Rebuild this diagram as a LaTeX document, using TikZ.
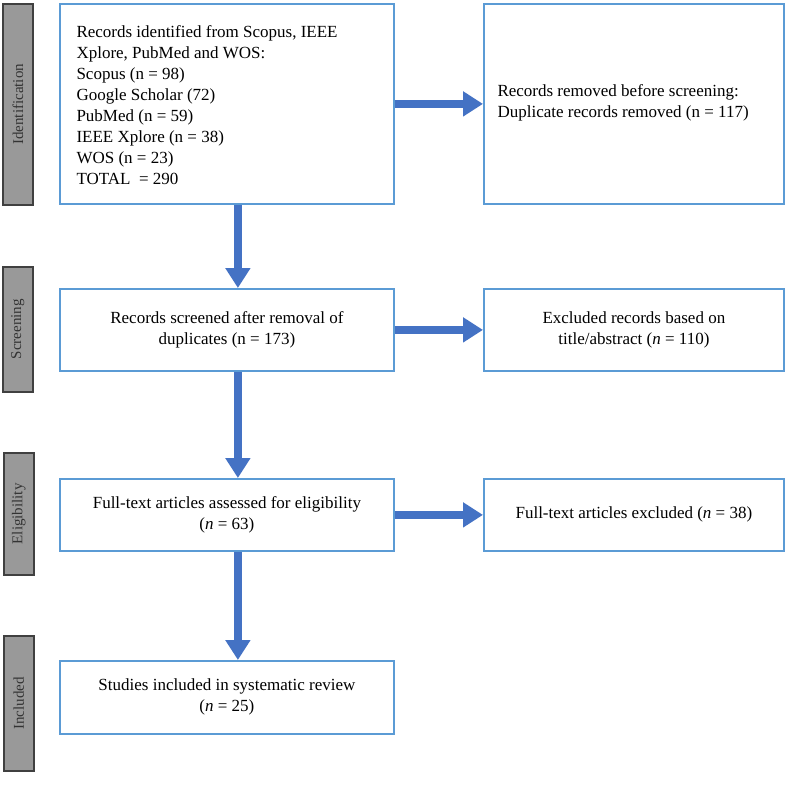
\documentclass[tikz,border=0pt]{standalone}
\usepackage{fontspec}
\setmainfont{Liberation Serif}
\usetikzlibrary{arrows.meta}
\definecolor{flowblue}{HTML}{4472C4}
\definecolor{boxline}{HTML}{5B9BD5}
\tikzset{
  stage/.style={draw=black!75,fill=black!40,line width=1.6pt,minimum width=30pt,anchor=north west,inner sep=0pt},
  stagetext/.style={rotate=90,font=\fontsize{15}{17}\selectfont,text=black!80},
  box/.style={draw=boxline,line width=1.8pt,anchor=north west,inner sep=0pt,font=\fontsize{17}{21}\selectfont},
  flow/.style={flowblue,line width=7.5pt,-{Triangle[length=20pt,width=24pt]}}
}
\begin{document}
\begin{tikzpicture}[x=1pt,y=-1pt]
\useasboundingbox (0,0) rectangle (787,806);
% stage bars
\node[stage,minimum height=201pt] (sid) at (2,3) {};
\node[stage,minimum height=125pt] (ssc) at (2,266) {};
\node[stage,minimum height=122pt] (sel) at (3,452) {};
\node[stage,minimum height=135pt] (sin) at (3,635) {};
\node[stagetext] at (sid.center) {Identification};
\node[stagetext] at (ssc.center) {Screening};
\node[stagetext] at (sel.center) {Eligibility};
\node[stagetext] at (sin.center) {Included};
% boxes
\node[box,minimum width=334pt,minimum height=200pt] (ident) at (59,3) {};
\node[anchor=north west,align=left,font=\fontsize{17}{21}\selectfont] at (73,22)
  {Records identified from Scopus, IEEE\\Xplore, PubMed and WOS:\\Scopus (n = 98)\\Google Scholar (72)\\PubMed (n = 59)\\IEEE Xplore (n = 38)\\WOS (n = 23)\\TOTAL\ \ = 290};
\node[box,minimum width=300pt,minimum height=200pt] (removed) at (483,3) {};
\node[anchor=west,align=left,font=\fontsize{17}{21}\selectfont] at (494,103)
  {Records removed before screening:\\Duplicate records removed (n = 117)};
\node[box,minimum width=334pt,minimum height=82pt,align=center] (screen) at (59,288)
  {Records screened after removal of\\duplicates (n = 173)};
\node[box,minimum width=300pt,minimum height=82pt,align=center] (excl) at (483,288)
  {Excluded records based on\\title/abstract (\textit{n} = 110)};
\node[box,minimum width=334pt,minimum height=72pt,align=center] (full) at (59,478)
  {Full-text articles assessed for eligibility\\(\textit{n} = 63)};
\node[box,minimum width=300pt,minimum height=72pt,align=center] (fexcl) at (483,478)
  {Full-text articles excluded (\textit{n} = 38)};
\node[box,minimum width=334pt,minimum height=73pt,align=center] (incl) at (59,660)
  {Studies included in systematic review\\(\textit{n} = 25)};
% arrows
\draw[flow] (ident.east) -- (removed.west);
\draw[flow] (screen.east) -- (excl.west);
\draw[flow] (full.east) -- (fexcl.west);
\draw[flow] ([xshift=11pt]ident.south) -- ([xshift=11pt]screen.north);
\draw[flow] ([xshift=11pt]screen.south) -- ([xshift=11pt]full.north);
\draw[flow] ([xshift=11pt]full.south) -- ([xshift=11pt]incl.north);
\end{tikzpicture}
\end{document}
